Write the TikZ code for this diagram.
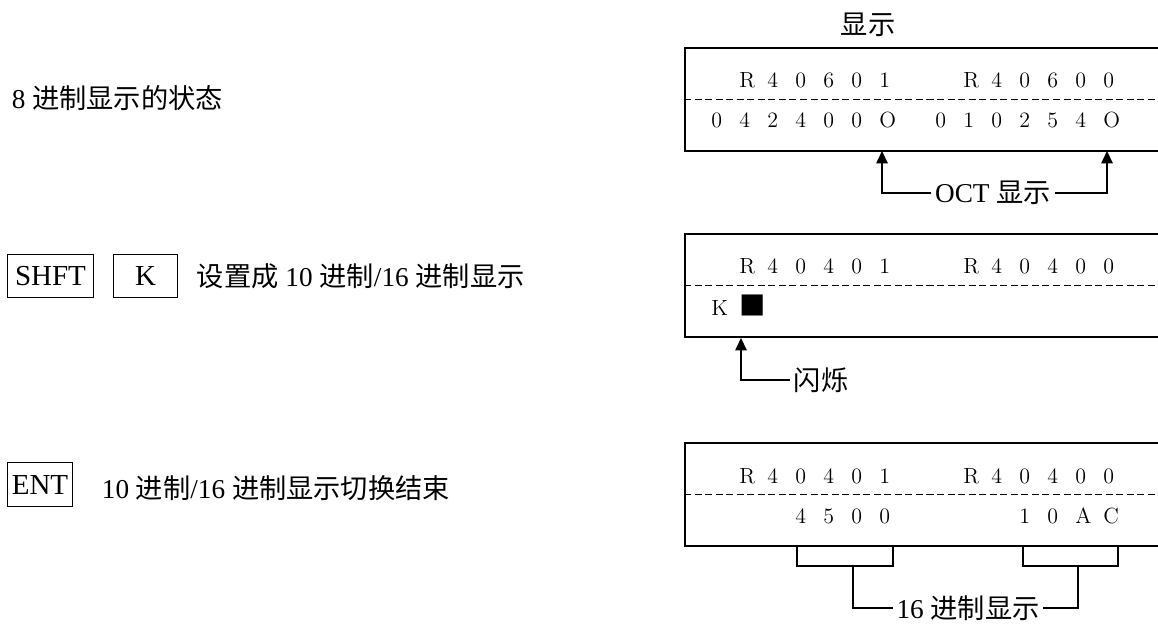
\documentclass[tikz,border=0pt]{standalone}
\usepackage{fontspec}
\newfontfamily\tms{Liberation Serif}
\newfontfamily\cjk{Noto Sans CJK SC}
\usetikzlibrary{arrows.meta,positioning}

\newcommand\zh[1]{{\cjk #1}}
% one character per display cell
\newcommand\lcdrow[1]{\foreach \ch in {#1}{\makebox[0.56cm][l]{\ch}}}

\tikzset{
  keybox/.style={draw,line width=0.6pt,inner sep=0pt,font=\tms\fontsize{16.5}{18}\selectfont},
  lcdbox/.style={draw,line width=0.9pt,minimum width=10cm,minimum height=2.06cm,inner sep=0pt,anchor=north west},
  lcdtext/.style={inner sep=0pt,anchor=base west,font=\fontsize{12.5}{13}\selectfont},
  note/.style={inner sep=2pt,font=\tms\fontsize{15.5}{18}\selectfont},
  sep/.style={dash pattern=on 4pt off 2pt,line width=0.6pt},
  tip/.style={-{Triangle[length=7pt,width=6.5pt]},line width=0.8pt},
  brace/.style={line width=0.8pt}
}

\begin{document}
\begin{tikzpicture}[x=0.02cm,y=-0.02cm]
\useasboundingbox (0,0) rectangle (1158,623);
\clip (0,0) rectangle (1158,623);

% left column: key operations
\node[note,anchor=west] (octstate) at (8,98) {8 \zh{进制显示的状态}};
\node[keybox,minimum width=1.72cm,minimum height=0.86cm,anchor=north west] (shft) at (7,254) {SHFT};
\node[keybox,minimum width=1.28cm,minimum height=0.86cm,right=0.38cm of shft] (kkey) {K};
\node[note,right=0.3cm of kkey] (setdec) {\zh{设置成} 10 \zh{进制}/16 \zh{进制显示}};
\node[keybox,minimum width=1.3cm,minimum height=0.88cm,anchor=north west] (ent) at (7,462) {ENT};
\node[note,right=0.5cm of ent,yshift=-2pt] (entdone) {10 \zh{进制}/16 \zh{进制显示切换结束}};

% right column: displays
\node[note] (disptitle) at (868,25) {\zh{显示}};
\node[lcdbox] (disp1) at (684,47) {};
\node[lcdbox] (disp2) at (684,233) {};
\node[lcdbox] (disp3) at (684,442) {};
\draw[sep] (disp1.west) -- (disp1.east);
\draw[sep] (disp2.west) -- (disp2.east);
\draw[sep] (disp3.west) -- (disp3.east);

\node[lcdtext] (row1a) at (711,87) {\lcdrow{{},R,4,0,6,0,1,{},{},R,4,0,6,0,0}};
\node[lcdtext] (row1b) at (711,127) {\lcdrow{0,4,2,4,0,0,O,{},0,1,0,2,5,4,O}};
\node[lcdtext] (row2a) at (711,273) {\lcdrow{{},R,4,0,4,0,1,{},{},R,4,0,4,0,0}};
\node[lcdtext] (row2b) at (711,315) {\lcdrow{K,{\fontsize{15}{15}\cjk ■}}};
\node[lcdtext] (row3a) at (711,483) {\lcdrow{{},R,4,0,4,0,1,{},{},R,4,0,4,0,0}};
\node[lcdtext] (row3b) at (711,523) {\lcdrow{{},{},{},4,5,0,0,{},{},{},{},1,0,A,C}};

% callouts
\coordinate (oct1) at (882,151);
\coordinate (oct2) at (1107,151);
\node[note] (octlbl) at (993,193) {OCT \zh{显示}};
\draw[tip] (octlbl.west) -| (oct1);
\draw[tip] (octlbl.east) -| (oct2);

\coordinate (blink) at (741,338);
\node[note,anchor=west] (blinklbl) at (790,380) {\zh{闪烁}};
\draw[tip] (blinklbl.west) -| (blink);

\coordinate (hex1a) at (797,545);
\coordinate (hex1b) at (893,545);
\coordinate (hex2a) at (1023,545);
\coordinate (hex2b) at (1118,545);
\coordinate (stem1) at (853,566);
\coordinate (stem2) at (1078,566);
\draw[brace] (hex1a) -- ++(0,21) -| (hex1b);
\draw[brace] (hex2a) -- ++(0,21) -| (hex2b);
\node[note] (hexlbl) at (968,608) {16 \zh{进制显示}};
\draw[brace] (stem1) |- (hexlbl.west);
\draw[brace] (hexlbl.east) -| (stem2);
\end{tikzpicture}
\end{document}
